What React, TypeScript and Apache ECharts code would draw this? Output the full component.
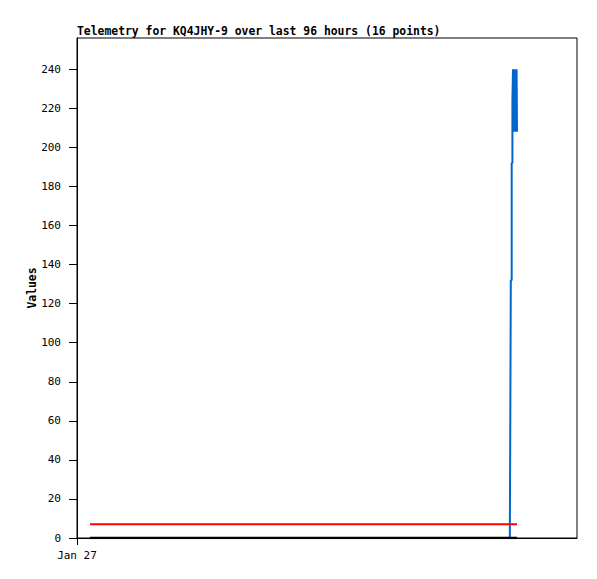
import React, { useEffect, useRef } from "react";
import * as echarts from "echarts";

// hours since Jan 27 00:00 (axis spans 96 hours)
const times = [2.5, 83.1, 83.17, 83.29, 83.46, 83.6, 83.71, 83.79, 83.89, 83.96, 84.06, 84.14, 84.23, 84.31, 84.4, 84.48];
const blueValues = [0, 0, 44, 132, 192, 224, 240, 208, 240, 208, 240, 208, 240, 208, 240, 208];
const redValues = [7, 7, 7, 7, 7, 7, 7, 7, 7, 7, 7, 7, 7, 7, 7, 7];
const blackValues = [0, 0, 0, 0, 0, 0, 0, 0, 0, 0, 0, 0, 0, 0, 0, 0];
const xTickValues = [0];
const xTickLabels: Record<number, string> = { 0: "Jan 27" };
const titleText = "Telemetry for KQ4JHY-9 over last 96 hours (16 points)";
const yName = "Values";

const FONT = "'DejaVu Sans Mono', 'Liberation Mono', monospace";

export default function App() {
  const ref = useRef<HTMLDivElement>(null);
  useEffect(() => {
    if (!ref.current) return;
    const chart = echarts.init(ref.current, null, { renderer: "svg" });
    const pair = (vals: number[]) => times.map((t, i) => [t, vals[i]]);
    chart.setOption({
      animation: false,
      backgroundColor: "#ffffff",
      title: {
        text: titleText,
        left: 69,
        top: 17,
        padding: 0,
        textStyle: { fontFamily: FONT, fontSize: 11.4, fontWeight: "bold", color: "#000" },
      },
      grid: {
        left: 69,
        top: 30,
        width: 500,
        height: 500,
        show: true,
        borderColor: "#000",
        borderWidth: 1,
        backgroundColor: "transparent",
      },
      xAxis: {
        type: "value",
        min: 0,
        max: 96,
        interval: 96,
        axisLine: { show: true, lineStyle: { color: "#000", width: 1 } },
        axisTick: { show: true, length: 7, customValues: xTickValues, lineStyle: { color: "#000" } },
        splitLine: { show: false },
        axisLabel: {
          fontFamily: FONT,
          fontSize: 11,
          color: "#000",
          margin: 12,
          customValues: xTickValues,
          formatter: (v: number) => xTickLabels[v] ?? "",
        },
      },
      yAxis: {
        type: "value",
        min: 0,
        max: 256,
        interval: 20,
        name: yName,
        nameLocation: "middle",
        nameGap: 40,
        nameMoveOverlap: false,
        nameTextStyle: { fontFamily: FONT, fontSize: 11.4, fontWeight: "bold", color: "#000" },
        axisLine: { show: true, lineStyle: { color: "#000", width: 1 } },
        axisTick: { show: true, length: 8, lineStyle: { color: "#000" } },
        splitLine: { show: false },
        axisLabel: {
          fontFamily: FONT,
          fontSize: 11,
          color: "#000",
          margin: 16,
          showMaxLabel: false,
          formatter: (v: number) => (v % 20 === 0 ? String(v) : ""),
        },
      },
      series: [
        {
          type: "line",
          data: pair(blueValues),
          showSymbol: false,
          step: "end",
          lineStyle: { color: "#0066cc", width: 2 },
          z: 2,
        },
        {
          type: "line",
          data: pair(redValues),
          showSymbol: false,
          lineStyle: { color: "#ff0000", width: 2 },
          z: 3,
        },
        {
          type: "line",
          data: pair(blackValues),
          showSymbol: false,
          lineStyle: { color: "#000000", width: 2.5 },
          z: 4,
        },
      ],
    });
    return () => chart.dispose();
  }, []);
  return <div ref={ref} style={{ width: 589, height: 571 }} />;
}
